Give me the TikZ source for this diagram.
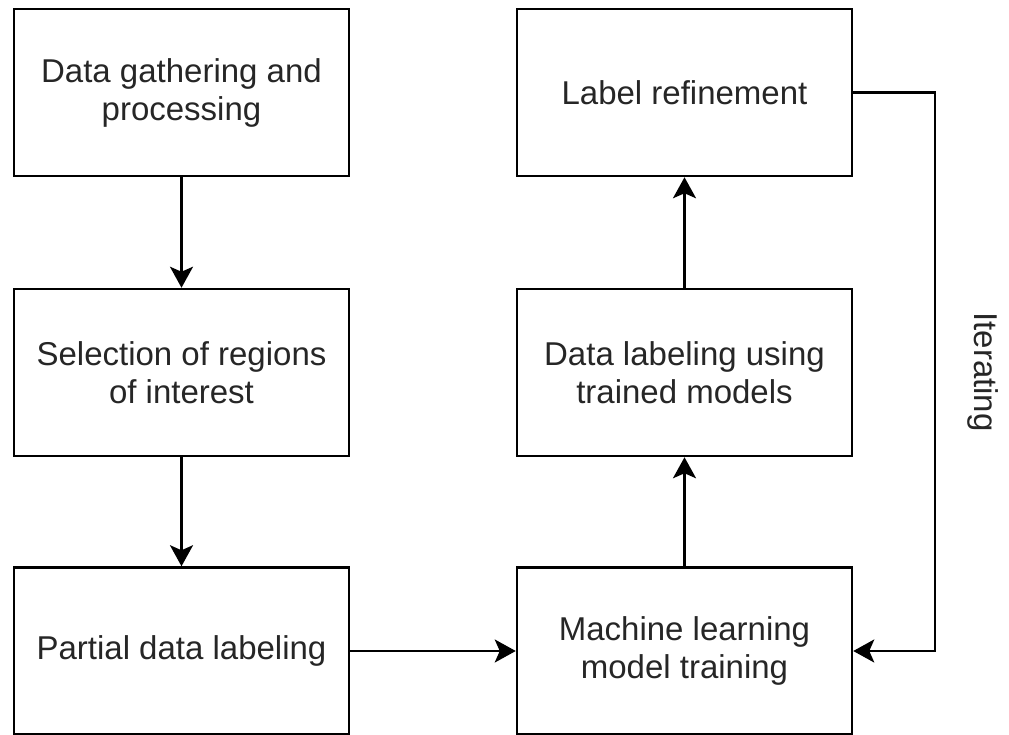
\documentclass[tikz,border=0pt]{standalone}
\usepackage{fontspec}
\setmainfont{Liberation Sans}
\usetikzlibrary{arrows.meta}
\begin{document}
\begin{tikzpicture}[x=1pt,y=-1pt,
  box/.style={draw=black, line width=2.5pt, minimum width=335pt, minimum height=167pt,
    align=center, inner sep=0pt, font=\fontsize{33}{38}\selectfont, text=black!85},
  conn/.style={draw=black, line width=2.5pt, -{Stealth[length=21pt,width=23pt,inset=5pt]}}]
\useasboundingbox (0,0) rectangle (1009,735);
\node[box] (a) at (181.5,92.5) {Data gathering and\\processing};
\node[box] (b) at (181.5,372.5) {Selection of regions\\of interest};
\node[box] (c) at (181.5,651) {Partial data labeling};
\node[box] (d) at (684.5,651) {Machine learning\\model training};
\node[box] (e) at (684.5,372.5) {Data labeling using\\trained models};
\node[box] (f) at (684.5,92.5) {Label refinement};
\coordinate (t1) at (935,92.5);
\coordinate (t2) at (935,651);
\draw[conn] (a) -- (b);
\draw[conn] (b) -- (c);
\draw[conn] (c) -- (d);
\draw[conn] (d) -- (e);
\draw[conn] (e) -- (f);
\draw[conn] (f.east) -- (t1) -- (t2) -- (d.east);
\node[rotate=-90, font=\fontsize{33}{38}\selectfont, text=black!85, inner sep=0pt] (it) at (983,372) {Iterating};
\end{tikzpicture}
\end{document}
